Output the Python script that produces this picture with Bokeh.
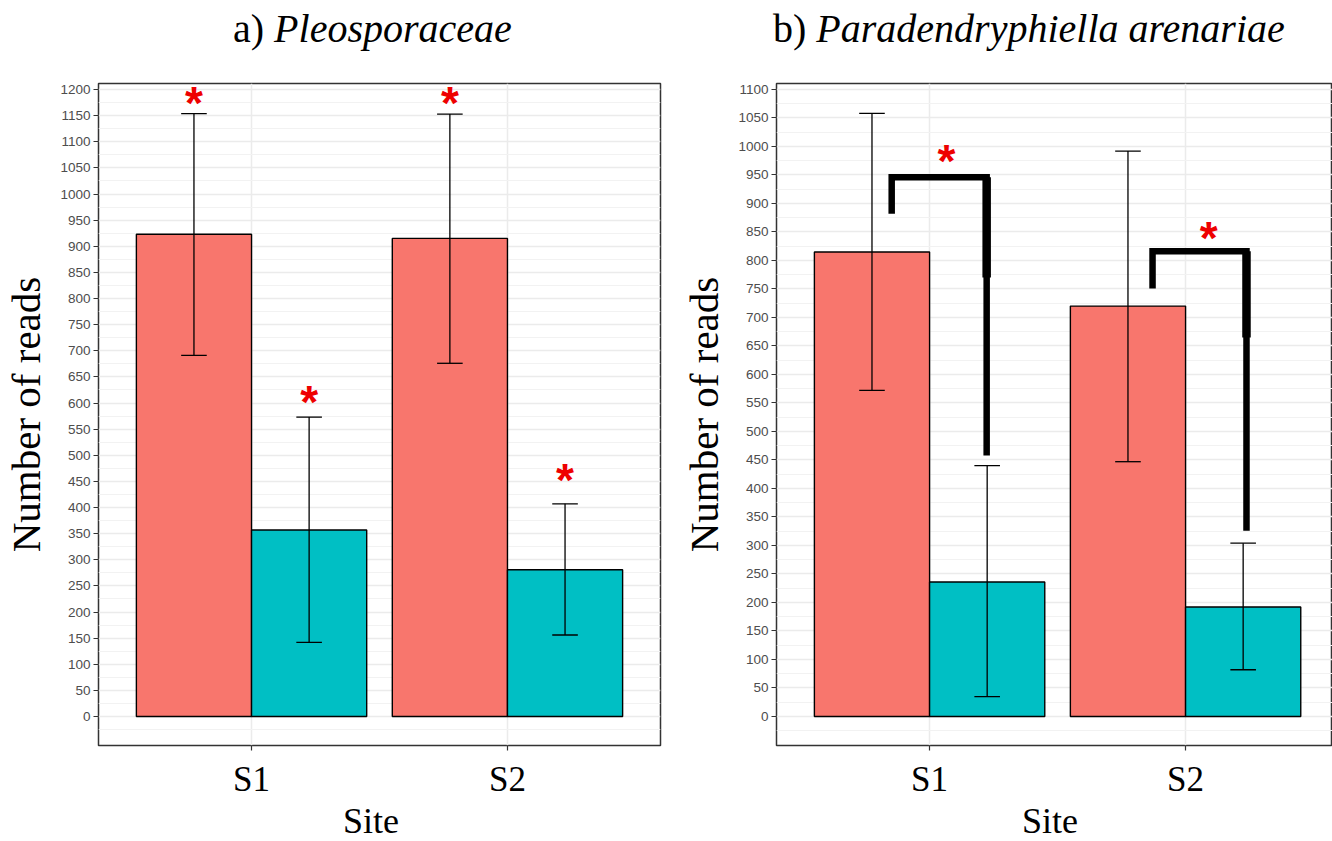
from bokeh.plotting import figure
from bokeh.layouts import row, column
from bokeh.models import FixedTicker, Range1d, Div
from bokeh.embed import file_html
from bokeh.resources import INLINE
from bokeh.core.properties import value

# ---------------- data ----------------
sites = ["S1", "S2"]
site_pos = [1, 2]
dodge = 0.225
bar_w = 0.45
cap_w = 0.1
colors = ["#F8766D", "#00BFC4"]

# panel a) Pleosporaceae
a_mean_1 = [923, 915]
a_low_1 = [691, 676]
a_high_1 = [1154, 1153]
a_mean_2 = [357, 281]
a_low_2 = [142, 156]
a_high_2 = [573, 407]
a_star_1 = [1184, 1184]
a_star_2 = [611, 463]
a_yticks = list(range(0, 1201, 50))
a_yminor = list(range(-25, 1226, 50))
a_yrange = (-55.5, 1211.5)

# panel b) Paradendryphiella arenariae
b_mean_1 = [815, 720]
b_low_1 = [572, 447]
b_high_1 = [1058, 992]
b_mean_2 = [236, 192]
b_low_2 = [35, 82]
b_high_2 = [440, 304]
b_br_left = [0.852, 1.871]
b_br_right = [1.223, 2.238]
b_br_top = [946, 816]
b_br_left_bottom = [882, 751]
b_br_right_bottom = [458, 326]
b_br_thick_bottom = [770, 665]
b_star_x = [1.066, 2.09]
b_star_y = [984, 849]
b_yticks = list(range(0, 1101, 50))
b_yminor = list(range(-25, 1126, 50))
b_yrange = (-50.9, 1110.5)

SERIF = "Liberation Serif"
SANS = "Liberation Sans"
TITLE_H = 78
XLAB_H = 40


def make_panel(width, left, right, xr, yr, yticks, yminor):
    p = figure(width=width, height=841 - TITLE_H - XLAB_H, output_backend="svg",
               toolbar_location=None, x_range=Range1d(*xr), y_range=Range1d(*yr), title=None,
               min_border_left=left, min_border_right=right,
               min_border_top=5, min_border_bottom=56,
               background_fill_color="white", border_fill_color="white")
    p.outline_line_color = "#333333"
    p.outline_line_width = 1.5
    p.xaxis.ticker = FixedTicker(ticks=site_pos)
    p.xaxis.major_label_overrides = {pos: s for pos, s in zip(site_pos, sites)}
    p.xaxis.major_label_text_font = SERIF
    p.xaxis.major_label_text_font_size = "35px"
    p.xaxis.major_label_text_color = "black"
    p.xaxis.major_label_standoff = 9
    p.yaxis.ticker = FixedTicker(ticks=yticks, minor_ticks=yminor)
    p.yaxis.major_label_text_font = SANS
    p.yaxis.major_label_text_font_size = "13.5px"
    p.yaxis.major_label_text_color = "#4D4D4D"
    p.yaxis.major_label_standoff = 3
    p.yaxis.axis_label = "Number of reads"
    p.yaxis.axis_label_text_font = SERIF
    p.yaxis.axis_label_text_font_size = "41px"
    p.yaxis.axis_label_text_font_style = "normal"
    p.yaxis.axis_label_text_color = "black"
    p.yaxis.axis_label_standoff = 8
    for ax in (p.xaxis, p.yaxis):
        ax.axis_line_color = None
        ax.major_tick_in = 0
        ax.major_tick_out = 5
        ax.major_tick_line_color = "#333333"
        ax.major_tick_line_width = 1.2
        ax.minor_tick_line_color = None
    p.xgrid.grid_line_color = "#EBEBEB"
    p.xgrid.grid_line_width = 1.5
    p.ygrid.grid_line_color = "#EBEBEB"
    p.ygrid.grid_line_width = 1.5
    p.ygrid.minor_grid_line_color = "#F2F2F2"
    p.ygrid.minor_grid_line_width = 1.0
    return p


def draw_bars(p, means, lows, highs):
    for g, (m, lo, hi) in enumerate(zip(means, lows, highs)):
        off = -dodge if g == 0 else dodge
        xs = [x + off for x in site_pos]
        p.vbar(x=xs, width=bar_w, top=m, bottom=0, fill_color=colors[g],
               line_color="black", line_width=1.4)
        p.segment(x0=xs, y0=lo, x1=xs, y1=hi, line_color="black", line_width=1.3)
        p.segment(x0=[x - cap_w / 2 for x in xs], y0=lo, x1=[x + cap_w / 2 for x in xs], y1=lo,
                  line_color="black", line_width=1.3)
        p.segment(x0=[x - cap_w / 2 for x in xs], y0=hi, x1=[x + cap_w / 2 for x in xs], y1=hi,
                  line_color="black", line_width=1.3)


def stars(p, xs, ys):
    p.text(x=xs, y=ys, text=["*"] * len(xs), text_font=value(SANS), text_font_style="bold",
           text_font_size="46px", text_color="#EE0000", text_align="center",
           text_baseline="middle", y_offset=5)


def title_div(width, left, label, species):
    html = ('<div style="margin-left:%dpx;margin-top:7px;font-family:\'Liberation Serif\';'
            'font-size:40px;line-height:44px;white-space:nowrap;color:black;">'
            '%s <i>%s</i></div>') % (left, label, species)
    return Div(text=html, width=width, height=TITLE_H, margin=0)


def xlabel_div(width, center, text):
    html = ('<div style="width:200px;margin-left:%dpx;margin-top:0px;'
            'font-family:\'Liberation Serif\';font-size:36px;line-height:40px;'
            'text-align:center;white-space:nowrap;color:black;">%s</div>') % (center - 100, text)
    return Div(text=html, width=width, height=XLAB_H, margin=0)


# ---------------- panel a ----------------
pa = make_panel(678, 97, 18, (0.402, 2.598), a_yrange, a_yticks, a_yminor)
draw_bars(pa, [a_mean_1, a_mean_2], [a_low_1, a_low_2], [a_high_1, a_high_2])
stars(pa, [x - dodge for x in site_pos] + [x + dodge for x in site_pos], a_star_1 + a_star_2)

# ---------------- panel b ----------------
pb = make_panel(654, 97, 0, (0.402, 2.574), b_yrange, b_yticks, b_yminor)
draw_bars(pb, [b_mean_1, b_mean_2], [b_low_1, b_low_2], [b_high_1, b_high_2])
pb.multi_line(xs=[[l, l, r, r] for l, r in zip(b_br_left, b_br_right)],
              ys=[[lb, t, t, rb] for lb, t, rb in zip(b_br_left_bottom, b_br_top, b_br_right_bottom)],
              line_color="black", line_width=6.5, line_join="miter", line_cap="butt")
pb.segment(x0=b_br_right, y0=b_br_top, x1=b_br_right, y1=b_br_thick_bottom,
           line_color="black", line_width=8.5, line_cap="butt")
stars(pb, b_star_x, b_star_y)

layout = row(column(title_div(678, 233, "a)", "Pleosporaceae"), pa,
                    xlabel_div(678, 371, "Site"), spacing=0),
             column(title_div(654, 95, "b)", "Paradendryphiella arenariae"), pb,
                    xlabel_div(654, 372, "Site"), spacing=0),
             spacing=0)
open("out.html", "w").write(file_html(layout, INLINE))
